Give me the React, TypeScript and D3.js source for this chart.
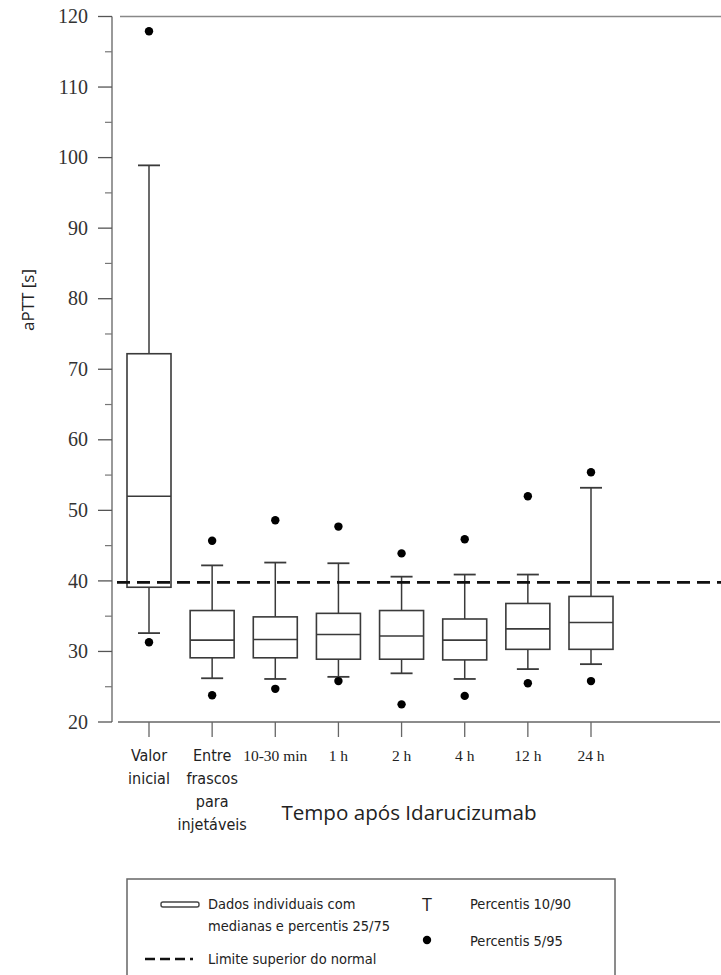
import React from "react";
import * as d3 from "d3";

const categories = ["Valor inicial", "Entre frascos", "10-30 min", "1 h", "2 h", "4 h", "12 h", "24 h"];
const categoryLines = [
  ["Valor", "inicial"],
  ["Entre", "frascos", "para", "injetáveis"],
  ["10-30 min"],
  ["1 h"],
  ["2 h"],
  ["4 h"],
  ["12 h"],
  ["24 h"],
];
const serifLabel = [false, false, true, true, true, true, true, true];
const p5 = [31.3, 23.8, 24.7, 25.8, 22.5, 23.7, 25.5, 25.8];
const p10 = [32.6, 26.2, 26.1, 26.4, 26.9, 26.1, 27.5, 28.2];
const p25 = [39.1, 29.1, 29.1, 28.9, 28.9, 28.8, 30.3, 30.3];
const median = [52.0, 31.6, 31.7, 32.4, 32.2, 31.6, 33.2, 34.1];
const p75 = [72.2, 35.8, 34.9, 35.4, 35.8, 34.6, 36.8, 37.8];
const p90 = [98.9, 42.2, 42.6, 42.5, 40.6, 40.9, 40.9, 53.2];
const p95 = [117.9, 45.7, 48.6, 47.7, 43.9, 45.9, 52.0, 55.4];
const upperNormal = 39.8;
const yTicks = [20, 30, 40, 50, 60, 70, 80, 90, 100, 110, 120];
const yMinorTicks = [25, 35, 45, 55, 65, 75, 85, 95, 105, 115];

const serif = "'Liberation Serif', 'Times New Roman', serif";
const narrow = "'DejaVu Sans', sans-serif";
const sans = "'Open Sans', 'Noto Sans', sans-serif";

export default function App() {
  const y = d3.scaleLinear().domain([20, 120]).range([722, 16.5]);
  const x = d3.scalePoint<string>().domain(categories).range([149, 591]);
  const boxW = 44;
  const capW = 22;
  const stroke = "#3a3a3a";
  const cond = { fontStretch: "condensed" as const };

  return (
    <svg width={721} height={975} style={{ position: "absolute", left: 0, top: 0, background: "#fff" }}>
      {/* top border line */}
      <line x1={120} x2={721} y1={y(120)} y2={y(120)} stroke="#888" strokeWidth={1.5} />
      {/* y axis */}
      <line x1={112} x2={112} y1={y(120)} y2={y(20)} stroke="#777" strokeWidth={1.5} />
      {yTicks.map((t) => (
        <g key={"t" + t}>
          <line x1={98} x2={112} y1={y(t)} y2={y(t)} stroke="#555" strokeWidth={1.3} />
          <text x={88} y={y(t)} dy="0.33em" textAnchor="end" fontFamily={serif} fontSize={20} fill="#333">
            {t}
          </text>
        </g>
      ))}
      {yMinorTicks.map((t) => (
        <line key={"m" + t} x1={105} x2={112} y1={y(t)} y2={y(t)} stroke="#777" strokeWidth={1.2} />
      ))}
      <text
        transform={`translate(34,300) rotate(-90)`}
        textAnchor="middle"
        fontFamily={sans}
        fontSize={17}
        fill="#222"
      >
        aPTT [s]
      </text>
      {/* x axis */}
      <line x1={118} x2={720} y1={y(20)} y2={y(20)} stroke="#666" strokeWidth={1.5} />
      {categories.map((c, i) => (
        <g key={"x" + c}>
          <line x1={x(c)} x2={x(c)} y1={y(20)} y2={737} stroke="#666" strokeWidth={1.3} />
          {categoryLines[i].map((l, j) => (
            <text
              key={j}
              x={x(c)}
              y={761 + j * 23}
              textAnchor="middle"
              fontFamily={serifLabel[i] ? serif : narrow}
              fontSize={serifLabel[i] ? 15.5 : 16}
              style={serifLabel[i] ? undefined : cond}
              fill="#222"
            >
              {l}
            </text>
          ))}
        </g>
      ))}
      <text x={409} y={820} textAnchor="middle" fontFamily={sans} fontSize={20.6} fill="#222">
        Tempo após Idarucizumab
      </text>

      {/* boxes */}
      {categories.map((c, i) => {
        const cx = x(c) as number;
        return (
          <g key={"b" + c}>
            <line x1={cx} x2={cx} y1={y(p75[i])} y2={y(p90[i])} stroke={stroke} strokeWidth={1.5} />
            <line x1={cx - capW / 2} x2={cx + capW / 2} y1={y(p90[i])} y2={y(p90[i])} stroke={stroke} strokeWidth={1.8} />
            <line x1={cx} x2={cx} y1={y(p25[i])} y2={y(p10[i])} stroke={stroke} strokeWidth={1.5} />
            <line x1={cx - capW / 2} x2={cx + capW / 2} y1={y(p10[i])} y2={y(p10[i])} stroke={stroke} strokeWidth={1.8} />
            <rect
              x={cx - boxW / 2}
              y={y(p75[i])}
              width={boxW}
              height={y(p25[i]) - y(p75[i])}
              fill="#fff"
              stroke={stroke}
              strokeWidth={1.6}
            />
            <line x1={cx - boxW / 2} x2={cx + boxW / 2} y1={y(median[i])} y2={y(median[i])} stroke={stroke} strokeWidth={1.6} />
            <circle cx={cx} cy={y(p95[i])} r={4.2} fill="#000" />
            <circle cx={cx} cy={y(p5[i])} r={4.2} fill="#000" />
          </g>
        );
      })}
      {/* upper normal limit */}
      <line
        x1={117}
        x2={721}
        y1={y(upperNormal)}
        y2={y(upperNormal)}
        stroke="#111"
        strokeWidth={2.8}
        strokeDasharray="13,7"
      />

      {/* legend */}
      <rect x={127} y={879} width={488} height={120} fill="none" stroke="#666" strokeWidth={1.5} />
      <rect x={161} y={902} width={38} height={5} rx={2} fill="#fff" stroke="#444" strokeWidth={1.4} />
      <text x={208} y={909} fontFamily={narrow} fontSize={14.5} style={cond} fill="#222">
        Dados individuais com
      </text>
      <text x={208} y={931} fontFamily={narrow} fontSize={14.5} style={cond} fill="#222">
        medianas e percentis 25/75
      </text>
      <line x1={145} x2={193} y1={959} y2={959} stroke="#111" strokeWidth={2.4} strokeDasharray="10,5" />
      <text x={208} y={964} fontFamily={narrow} fontSize={14.5} style={cond} fill="#222">
        Limite superior do normal
      </text>
      <text x={427} y={911} textAnchor="middle" fontFamily={sans} fontSize={18} fill="#222">
        T
      </text>
      <circle cx={427} cy={940} r={4.2} fill="#000" />
      <text x={470} y={909} fontFamily={narrow} fontSize={14.5} style={cond} fill="#222">
        Percentis 10/90
      </text>
      <text x={470} y={946} fontFamily={narrow} fontSize={14.5} style={cond} fill="#222">
        Percentis 5/95
      </text>
    </svg>
  );
}
